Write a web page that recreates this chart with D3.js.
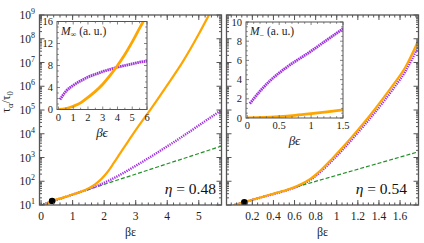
<!DOCTYPE html>
<html lang="en">
<head>
  <meta charset="UTF-8" />
  <title>tau alpha vs beta epsilon</title>
  <script src="https://d3js.org/d3.v7.min.js"></script>
  <style>
    body { margin: 0; background: white; }
    svg, svg text { font-family: "Liberation Serif", "DejaVu Serif", serif; }
  </style>
</head>
<body>
  <div id="chart"></div>
  <script>
    // ---- data (x = beta*eps, y = log10(tau_alpha/tau_0)) ----
    const etaLabels = ["η = 0.48", "η = 0.54"];
    const mainYTicks = [1, 2, 3, 4, 5, 6, 7, 8, 9];
    const xTicksL = [0, 1, 2, 3, 4, 5];
    const xTicksR = [0.2, 0.4, 0.6, 0.8, 1, 1.2, 1.4, 1.6];

    const orangeL = [[0.13,1.0],[0.35,1.17],[0.7,1.31],[1.0,1.44],[1.3,1.58],[1.5,1.7],[1.7,1.86],[1.9,2.08],[2.1,2.38],[2.3,2.76],[2.5,3.16],[2.75,3.66],[3.0,4.15],[3.5,5.08],[4.0,6.05],[4.5,7.05],[5.0,8.2],[5.32,9.0]];
    const purpleL = [[0,1.0],[0.5,1.22],[1.0,1.44],[1.4,1.62],[1.8,1.82],[2.2,2.06],[2.6,2.34],[3.0,2.65],[3.5,3.05],[4.0,3.47],[4.5,3.9],[5.0,4.35],[5.72,5.0]];
    const greenL  = [[0,1.0],[5.72,3.48]];
    const dotL = [0.35, 1.17];

    const orangeR = [[0.03,1.0],[0.124,1.12],[0.3,1.35],[0.45,1.54],[0.55,1.67],[0.65,1.85],[0.75,2.1],[0.85,2.47],[0.95,2.92],[1.05,3.4],[1.15,3.9],[1.25,4.42],[1.35,4.97],[1.45,5.55],[1.55,6.15],[1.65,6.8],[1.775,7.95]];
    const purpleR = [[0.03,1.0],[0.3,1.34],[0.45,1.52],[0.55,1.65],[0.65,1.82],[0.75,2.06],[0.85,2.41],[0.95,2.84],[1.05,3.3],[1.15,3.79],[1.25,4.3],[1.35,4.83],[1.45,5.39],[1.55,5.98],[1.65,6.62],[1.775,7.7]];
    const greenR  = [[0.02,1.0],[1.775,3.24]];
    const dotR = [0.124, 1.11];

    // insets: M (a.u.) vs beta*eps
    const insetXTicksL = [0, 1, 2, 3, 4, 5, 6];
    const insetYTicksL = [0, 4, 8, 12, 16];
    const insetPurpleL = [[0.1,1.8],[0.5,3.3],[1,4.4],[1.5,5.2],[2,5.9],[2.5,6.4],[3,6.9],[3.5,7.3],[4,7.7],[4.5,8.0],[5,8.3],[5.5,8.6],[6,8.8]];
    const insetOrangeL = [[0,0],[0.5,0.15],[1,0.6],[1.5,1.2],[2,2.2],[2.5,3.3],[3,4.6],[3.5,6.2],[4,8.0],[4.5,10.0],[5,12.3],[5.5,14.8],[5.75,16]];

    const insetXTicksR = [0, 0.5, 1, 1.5];
    const insetYTicksR = [0, 2, 4, 6, 8, 10];
    const insetPurpleR = [[0.04,1.5],[0.2,2.8],[0.36,3.9],[0.62,5.3],[0.94,6.7],[1.2,7.9],[1.5,9.3]];
    const insetOrangeR = [[0,0.02],[0.25,0.06],[0.5,0.15],[0.75,0.28],[1,0.45],[1.25,0.64],[1.5,0.85]];

    const W = 424, H = 243;
    const ORANGE = "#ffa500", PURPLE = "#a033e0", GREEN = "#23912a", FRAME = "#555";
    const FONT = '"Liberation Serif", "DejaVu Serif", serif';

    const svg = d3.select("#chart").append("svg")
      .attr("width", W).attr("height", H).attr("font-family", FONT);

    const y = d3.scaleLog().domain([10, 1e9]).range([205, 15]);

    const panels = [
      { x: d3.scaleLinear().domain([-0.05, 5.72]).range([39.5, 221.5]),
        ticks: xTicksL, minor: d3.range(0, 5.8, 0.2), fmt: d3.format("d"),
        orange: orangeL, purple: purpleL, green: greenL, dot: dotL, label: etaLabels[0], labelX: 216,
        inset: { x: d3.scaleLinear().domain([-0.1, 6]).range([57, 147]),
                 y: d3.scaleLinear().domain([0, 16]).range([109.5, 21.5]),
                 xt: insetXTicksL, yt: insetYTicksL, xminor: d3.range(0, 6.01, 0.5), yminor: d3.range(0, 16.1, 1),
                 purple: insetPurpleL, orange: insetOrangeL, sub: "∞", fmt: d3.format("d") } },
      { x: d3.scaleLinear().domain([-0.045, 1.775]).range([226.5, 418.5]),
        ticks: xTicksR, minor: d3.range(0, 1.78, 0.05), fmt: d => (d === 1 ? "1" : d3.format(".1f")(d)),
        orange: orangeR, purple: purpleR, green: greenR, dot: dotR, label: etaLabels[1], labelX: 407,
        inset: { x: d3.scaleLinear().domain([-0.02, 1.5]).range([246, 343]),
                 y: d3.scaleLinear().domain([0, 10]).range([118, 22]),
                 xt: insetXTicksR, yt: insetYTicksR, xminor: d3.range(0, 1.51, 0.1), yminor: d3.range(0, 10.1, 0.5),
                 purple: insetPurpleR, orange: insetOrangeR, sub: "−", fmt: d => (d === 0.5 || d === 1.5 ? d3.format(".1f")(d) : d3.format("d")(d)) } }
    ];

    // y minor ticks (log)
    const yMinor = [];
    for (let e = 1; e < 9; e++) for (let m = 2; m < 10; m++) yMinor.push(m * Math.pow(10, e));

    panels.forEach((p, pi) => {
      const g = svg.append("g");
      const [x0, x1] = p.x.range();
      const clipId = "clip" + pi;
      g.append("clipPath").attr("id", clipId).append("rect")
        .attr("x", x0).attr("y", 15).attr("width", x1 - x0).attr("height", 190);

      const line = d3.line().x(d => p.x(d[0])).y(d => y(Math.pow(10, d[1]))).curve(d3.curveMonotoneX);
      const plot = g.append("g").attr("clip-path", `url(#${clipId})`);

      plot.append("path").attr("d", line(p.green)).attr("fill", "none")
        .attr("stroke", GREEN).attr("stroke-width", 1.2).attr("stroke-dasharray", "4,2");
      plot.append("path").attr("d", line(p.purple)).attr("fill", "none")
        .attr("stroke", PURPLE).attr("stroke-width", 2.4).attr("stroke-dasharray", "1.3,1");
      plot.append("path").attr("d", line(p.orange)).attr("fill", "none")
        .attr("stroke", ORANGE).attr("stroke-width", 2.2);
      plot.append("circle").attr("cx", p.x(p.dot[0])).attr("cy", y(Math.pow(10, p.dot[1])))
        .attr("r", 3.3).attr("fill", "black");

      // frame + ticks
      const ax = g.append("g").attr("stroke", FRAME);
      p.ticks.forEach(t => {
        ax.append("line").attr("x1", p.x(t)).attr("x2", p.x(t)).attr("y1", 205).attr("y2", 200);
        ax.append("line").attr("x1", p.x(t)).attr("x2", p.x(t)).attr("y1", 15).attr("y2", 20);
      });
      p.minor.forEach(t => {
        ax.append("line").attr("x1", p.x(t)).attr("x2", p.x(t)).attr("y1", 205).attr("y2", 202.5);
        ax.append("line").attr("x1", p.x(t)).attr("x2", p.x(t)).attr("y1", 15).attr("y2", 17.5);
      });
      mainYTicks.forEach(e => {
        const yy = y(Math.pow(10, e));
        ax.append("line").attr("x1", x0).attr("x2", x0 + 5).attr("y1", yy).attr("y2", yy);
        ax.append("line").attr("x1", x1).attr("x2", x1 - 5).attr("y1", yy).attr("y2", yy);
      });
      yMinor.forEach(v => {
        const yy = y(v);
        ax.append("line").attr("x1", x0).attr("x2", x0 + 2.5).attr("y1", yy).attr("y2", yy);
        ax.append("line").attr("x1", x1).attr("x2", x1 - 2.5).attr("y1", yy).attr("y2", yy);
      });
      g.append("rect").attr("x", x0).attr("y", 15).attr("width", x1 - x0).attr("height", 190)
        .attr("fill", "none").attr("stroke", FRAME).attr("stroke-width", 1.3);

      // x tick labels
      g.selectAll(".xt").data(p.ticks).join("text")
        .attr("x", d => p.x(d)).attr("y", 220).attr("text-anchor", "middle")
        .attr("font-size", 11.5).attr("fill", "#222").text(p.fmt);
      g.append("text").attr("x", (x0 + x1) / 2).attr("y", 236).attr("text-anchor", "middle")
        .attr("font-size", 12).attr("fill", "#222").text("βε");

      // eta label
      g.append("text").attr("x", p.labelX).attr("y", 194).attr("text-anchor", "end")
        .attr("font-size", 15.5).attr("fill", "#111")
        .html(`<tspan font-style="italic">η</tspan> = ${p.label.split("= ")[1]}`);

      // inset
      const q = p.inset;
      const [ix0, ix1] = q.x.range();
      const [iy0, iy1] = q.y.range();
      const ig = g.append("g");
      ig.append("rect").attr("x", ix0).attr("y", iy1).attr("width", ix1 - ix0).attr("height", iy0 - iy1)
        .attr("fill", "white");
      const iline = d3.line().x(d => q.x(d[0])).y(d => q.y(d[1])).curve(d3.curveMonotoneX);
      const iclip = "iclip" + pi;
      ig.append("clipPath").attr("id", iclip).append("rect")
        .attr("x", ix0).attr("y", iy1).attr("width", ix1 - ix0).attr("height", iy0 - iy1);
      const ip = ig.append("g").attr("clip-path", `url(#${iclip})`);
      ip.append("path").attr("d", iline(q.purple)).attr("fill", "none")
        .attr("stroke", PURPLE).attr("stroke-width", 2.8).attr("stroke-dasharray", "1.6,0.6");
      ip.append("path").attr("d", iline(q.orange)).attr("fill", "none")
        .attr("stroke", ORANGE).attr("stroke-width", 2.8);

      const iax = ig.append("g").attr("stroke", "#666").attr("stroke-width", 0.8);
      q.xminor.forEach(t => {
        const big = q.xt.some(v => Math.abs(v - t) < 1e-9);
        const l = big ? 3 : 1.8;
        iax.append("line").attr("x1", q.x(t)).attr("x2", q.x(t)).attr("y1", iy0).attr("y2", iy0 - l);
        iax.append("line").attr("x1", q.x(t)).attr("x2", q.x(t)).attr("y1", iy1).attr("y2", iy1 + l);
      });
      q.yminor.forEach(t => {
        const big = q.yt.some(v => Math.abs(v - t) < 1e-9);
        const l = big ? 3 : 1.8;
        iax.append("line").attr("x1", ix0).attr("x2", ix0 + l).attr("y1", q.y(t)).attr("y2", q.y(t));
        iax.append("line").attr("x1", ix1).attr("x2", ix1 - l).attr("y1", q.y(t)).attr("y2", q.y(t));
      });
      ig.append("rect").attr("x", ix0).attr("y", iy1).attr("width", ix1 - ix0).attr("height", iy0 - iy1)
        .attr("fill", "none").attr("stroke", "#555").attr("stroke-width", 1);

      ig.selectAll(".ixt").data(q.xt).join("text")
        .attr("x", d => q.x(d)).attr("y", iy0 + 11).attr("text-anchor", "middle")
        .attr("font-size", 10.5).attr("fill", "#222").text(q.fmt);
      ig.selectAll(".iyt").data(q.yt).join("text")
        .attr("x", ix0 - 4).attr("y", d => q.y(d) + 3.5).attr("text-anchor", "end")
        .attr("font-size", 10.5).attr("fill", "#222").text(d => d);
      ig.append("text").attr("x", (ix0 + ix1) / 2).attr("y", iy0 + 27).attr("text-anchor", "middle")
        .attr("font-size", 13).attr("font-style", "italic").attr("fill", "#222").text("βϵ");
      ig.append("text").attr("x", ix0 + 4).attr("y", iy1 + 13).attr("font-size", 11.5).attr("fill", "#222")
        .html(`<tspan font-style="italic">M</tspan><tspan font-size="8" dy="2.5">${q.sub}</tspan><tspan dy="-2.5"> (a. u.)</tspan>`);
    });

    // y tick labels (left panel only)
    const yl = svg.append("g");
    mainYTicks.forEach(e => {
      yl.append("text").attr("x", 35).attr("y", y(Math.pow(10, e)) + 4)
        .attr("text-anchor", "end").attr("font-size", 11.5).attr("fill", "#222")
        .html(`10<tspan font-size="8" dy="-5">${e}</tspan>`);
    });
    svg.append("text").attr("transform", "translate(10,102) rotate(-90)")
      .attr("text-anchor", "middle").attr("font-size", 12).attr("fill", "#222")
      .html(`τ<tspan font-size="8.5" dy="3">α</tspan><tspan dy="-3">/τ</tspan><tspan font-size="8.5" dy="3">0</tspan>`);
  </script>
</body>
</html>
